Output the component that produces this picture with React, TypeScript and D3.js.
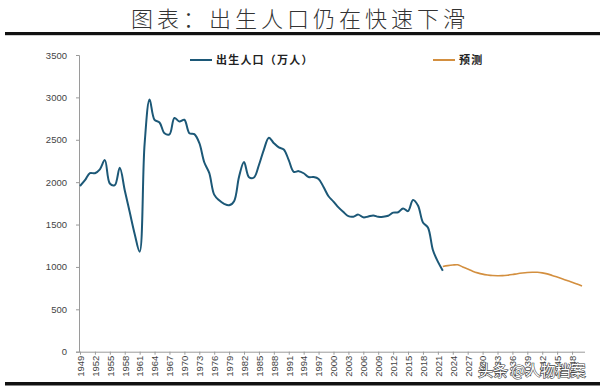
import React, { useRef, useEffect } from "react";
import * as d3 from "d3";

// births, 10k persons
const birthYears = [
  1949, 1950, 1951, 1952, 1953, 1954, 1955, 1956, 1957, 1958, 1959, 1960, 1961, 1962, 1963, 1964,
  1965, 1966, 1967, 1968, 1969, 1970, 1971, 1972, 1973, 1974, 1975, 1976, 1977, 1978, 1979, 1980,
  1981, 1982, 1983, 1984, 1985, 1986, 1987, 1988, 1989, 1990, 1991, 1992, 1993, 1994, 1995, 1996,
  1997, 1998, 1999, 2000, 2001, 2002, 2003, 2004, 2005, 2006, 2007, 2008, 2009, 2010, 2011, 2012,
  2013, 2014, 2015, 2016, 2017, 2018, 2019, 2020, 2021, 2022,
];
const births = [
  1955, 2023, 2107, 2105, 2151, 2260, 1984, 1965, 2169, 1905, 1647, 1389, 1180, 2451, 2975, 2735,
  2704, 2577, 2563, 2757, 2715, 2736, 2578, 2566, 2463, 2235, 2109, 1853, 1786, 1745, 1727, 1776,
  2064, 2237, 2058, 2055, 2202, 2384, 2525, 2460, 2410, 2385, 2260, 2122, 2130, 2105, 2060, 2060,
  2038, 1942, 1834, 1771, 1702, 1647, 1599, 1593, 1617, 1585, 1595, 1608, 1591, 1592, 1604, 1640,
  1645, 1690, 1658, 1790, 1725, 1525, 1465, 1200, 1062, 956,
];

const forecastYears = [
  2022, 2023, 2024, 2025, 2026, 2027, 2028, 2029, 2030, 2031, 2032, 2033, 2034, 2035, 2036, 2037,
  2038, 2039, 2040, 2041, 2042, 2043, 2044, 2045, 2046, 2047, 2048, 2049, 2050,
];
const forecast = [
  1005, 1015, 1022, 1025, 1000, 975, 950, 930, 915, 905, 898, 896, 897, 902, 910, 920,
  928, 934, 937, 937, 930, 918, 900, 880, 860, 840, 820, 798, 775,
];

const xTickYears = [
  1949, 1952, 1955, 1958, 1961, 1964, 1967, 1970, 1973, 1976, 1979, 1982, 1985, 1988, 1991, 1994,
  1997, 2000, 2003, 2006, 2009, 2012, 2015, 2018, 2021, 2024, 2027, 2030, 2033, 2036, 2039, 2042,
  2045, 2048,
];
const yTicks = [0, 500, 1000, 1500, 2000, 2500, 3000, 3500];

const title = "图表：出生人口仍在快速下滑";
const legendNames = ["出生人口（万人）", "预测"];
const colors = ["#1c5877", "#d38f3f"];

export default function App() {
  const svgRef = useRef<SVGSVGElement>(null);

  useEffect(() => {
    const svg = d3.select(svgRef.current);
    svg.selectAll("*").remove();

    const x = d3.scaleLinear().domain([1949, 2050]).range([80, 582]);
    const y = d3.scaleLinear().domain([0, 3500]).range([351.7, 55]);
    const axisFont = "'Liberation Sans', Arial, sans-serif";

    // title + rules
    svg.append("text")
      .attr("x", 300).attr("y", 27)
      .attr("text-anchor", "middle")
      .attr("font-family", "'Noto Sans CJK SC', sans-serif")
      .attr("font-size", 22)
      .attr("font-weight", 300)
      .attr("letter-spacing", 4)
      .attr("fill", "#333")
      .text(title);
    svg.append("rect").attr("x", 5).attr("y", 32).attr("width", 595).attr("height", 3.2).attr("fill", "#111");
    svg.append("rect").attr("x", 5).attr("y", 382).attr("width", 595).attr("height", 3.5).attr("fill", "#111");

    // y axis
    const gy = svg.append("g")
      .attr("transform", "translate(79,0)")
      .call(d3.axisLeft(y).tickValues(yTicks).tickSize(3).tickPadding(9).tickFormat(d3.format("d")));
    gy.select(".domain").attr("stroke", "#9a9a9a");
    gy.selectAll(".tick line").attr("stroke", "#9a9a9a");
    gy.selectAll("text").attr("font-family", axisFont).attr("font-size", 9.5).attr("fill", "#444");

    // x axis
    const gx = svg.append("g")
      .attr("transform", "translate(0,351.7)")
      .call(d3.axisBottom(x).tickValues(xTickYears).tickSize(3).tickFormat(d3.format("d")));
    gx.select(".domain").attr("stroke", "#9a9a9a").attr("d", "M79,0.5H585");
    gx.selectAll(".tick line").attr("stroke", "#9a9a9a");
    gx.selectAll("text")
      .attr("font-family", axisFont)
      .attr("font-size", 9.5)
      .attr("fill", "#444")
      .attr("transform", "rotate(-90)")
      .attr("text-anchor", "end")
      .attr("x", -4)
      .attr("y", 0)
      .attr("dy", "0.35em");

    const line = d3.line<number>()
      .curve(d3.curveCatmullRom.alpha(0.5));

    svg.append("path")
      .datum(births.map((v, i) => [x(birthYears[i]), y(v)]) as any)
      .attr("d", line as any)
      .attr("fill", "none")
      .attr("stroke", colors[0])
      .attr("stroke-width", 2);

    svg.append("path")
      .datum(forecast.map((v, i) => [x(forecastYears[i]), y(v)]) as any)
      .attr("d", line as any)
      .attr("fill", "none")
      .attr("stroke", colors[1])
      .attr("stroke-width", 1.6);

    // legend
    const legendX = [190, 433];
    legendNames.forEach((name, i) => {
      svg.append("line")
        .attr("x1", legendX[i]).attr("x2", legendX[i] + 22)
        .attr("y1", 60).attr("y2", 60)
        .attr("stroke", colors[i]).attr("stroke-width", 2);
      svg.append("text")
        .attr("x", legendX[i] + 26).attr("y", 64)
        .attr("font-family", "'Noto Sans CJK SC', sans-serif")
        .attr("font-size", 11)
        .attr("font-weight", "bold")
        .attr("letter-spacing", 1.2)
        .attr("fill", "#222")
        .text(name);
    });

    // watermark
    svg.append("text")
      .attr("x", 478).attr("y", 376)
      .attr("font-family", "'Noto Sans CJK SC', sans-serif")
      .attr("font-size", 15)
      .attr("fill", "#fff")
      .attr("stroke", "#444")
      .attr("stroke-width", 1.2)
      .attr("paint-order", "stroke")
      .text("头条 @人物档案");
  }, []);

  return (
    <svg ref={svgRef} width={600} height={391}
      style={{ position: "absolute", left: 0, top: 0, background: "#fff" }} />
  );
}
